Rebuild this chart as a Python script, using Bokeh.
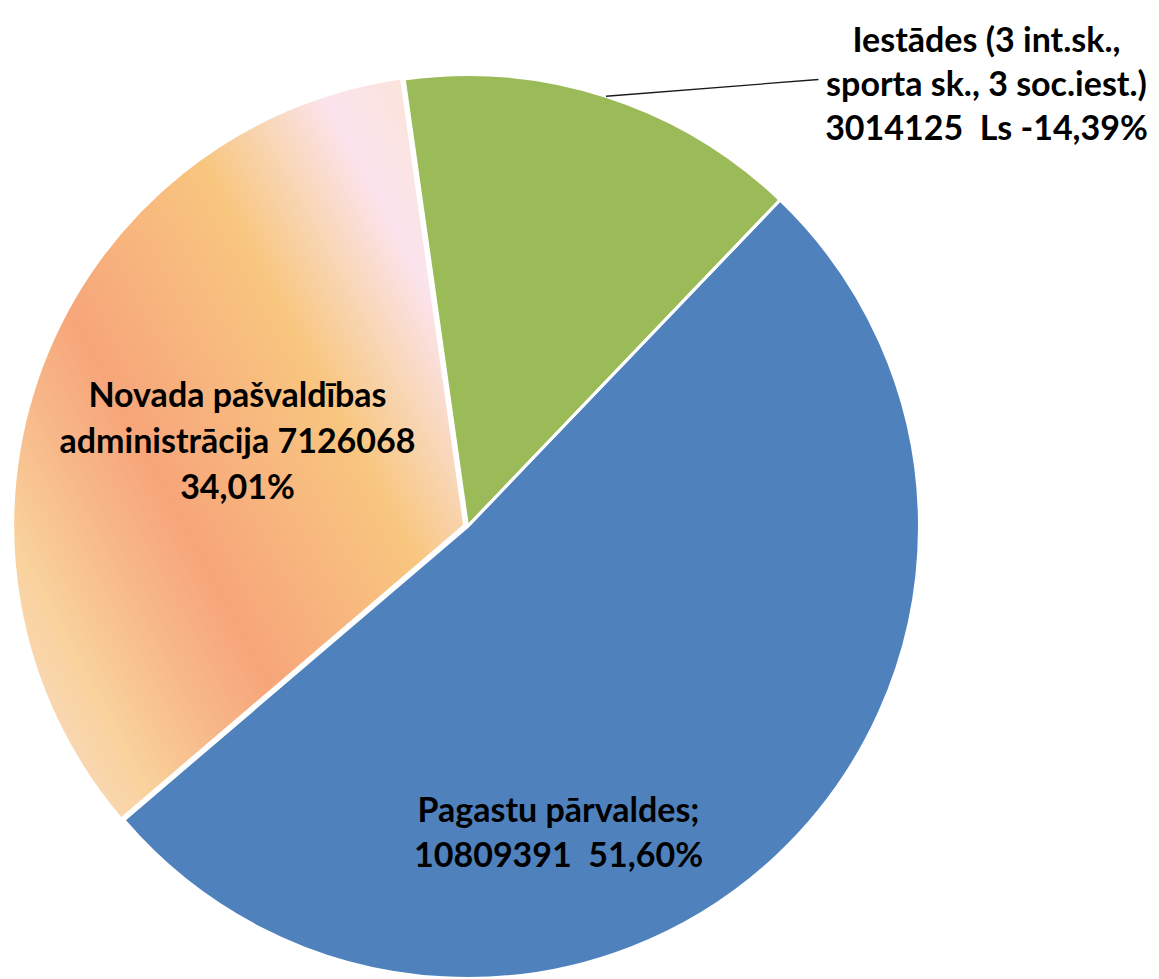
import numpy as np
from bokeh.plotting import figure
from bokeh.models import Range1d
from bokeh.core.properties import value
from bokeh.embed import file_html
from bokeh.resources import INLINE

# ---------------- data ----------------
categories = ["Iestādes (3 int.sk., sporta sk., 3 soc.iest.)",
              "Pagastu pārvaldes",
              "Novada pašvaldības administrācija"]
values = [3014125, 10809391, 7126068]
pct_labels = ["14,39%", "51,60%", "34,01%"]
colors = ["#9BBB59", "#4F81BD", "#F8C08E"]

NB = "\u00a0 "  # double space that survives SVG whitespace collapsing
label_lines = [
    ["Iestādes (3 int.sk.,", "sporta sk., 3 soc.iest.)",
     "%d%sLs -%s" % (values[0], NB, pct_labels[0])],
    ["Pagastu pārvaldes;", "%d%s%s" % (values[1], NB, pct_labels[1])],
    ["Novada pašvaldības", "administrācija %d" % values[2], pct_labels[2]],
]

# ---------------- layout ----------------
W, H = 1159, 979
CX, CY, R = 467.0, 453.0, 452.0
START_DEG = 98.05
EXPLODE = [0.0, 0.0, 3.0]

p = figure(width=W, height=H, x_range=Range1d(0, W), y_range=Range1d(0, H),
           output_backend="svg", toolbar_location=None,
           x_axis_type=None, y_axis_type=None,
           min_border=0, min_border_left=0, min_border_right=0,
           min_border_top=0, min_border_bottom=0)
p.grid.visible = False
p.outline_line_color = None
p.background_fill_color = "white"
p.border_fill_color = "white"

total = float(sum(values))
fr = np.array(values, dtype=float) / total
cum = np.concatenate([[0.0], np.cumsum(fr)])
start_rad = np.deg2rad(START_DEG) - cum[:-1] * 2 * np.pi
end_rad = np.deg2rad(START_DEG) - cum[1:] * 2 * np.pi
mid_rad = (start_rad + end_rad) / 2
xs = [CX + e * np.cos(m) for e, m in zip(EXPLODE, mid_rad)]
ys = [CY + e * np.sin(m) for e, m in zip(EXPLODE, mid_rad)]

# base solid slices
p.wedge(x=xs, y=ys, radius=R, start_angle=list(start_rad), end_angle=list(end_rad),
        direction="clock", fill_color=colors, line_color=None)

# gradient overlay for the third slice (Excel-like soft gradient)
oi = 2
ocx, ocy = xs[oi], ys[oi]
# slice spans counterclockwise from its end angle to its start angle
a_from = np.rad2deg(end_rad[oi]) % 360
a_to = np.rad2deg(start_rad[oi]) % 360
span = (a_to - a_from) % 360
x0 = int(np.floor(ocx - R - 2)); x1 = int(np.ceil(ocx + 3))
y0 = int(np.floor(ocy - R - 2)); y1 = int(np.ceil(ocy + R + 2))
gw, gh = x1 - x0, y1 - y0
gx, gy = np.meshgrid(x0 + 0.5 + np.arange(gw), y0 + 0.5 + np.arange(gh))
dx, dy = gx - ocx, gy - ocy
rr = np.hypot(dx, dy)
ang = np.rad2deg(np.arctan2(dy, dx)) % 360
inside = ((ang - a_from) % 360) <= span
alpha = np.clip(R - rr - 0.3, 0, 1) * inside
tc = 0.88 * (gx - CX) + 0.47 * (gy - CY)
stops_t = [-494, -404, -324, -249, -164, -64, 6, 76, 156]
stops_c = ["#F9DCC4", "#F9D29C", "#F8B98A", "#F7A67A", "#F8B57E",
           "#F8C67E", "#F9D6B4", "#FCE4EE", "#FBE5DA"]
rgb = np.array([[int(c[i:i + 2], 16) for i in (1, 3, 5)] for c in stops_c], dtype=float)
img = np.empty((gh, gw), dtype=np.uint32)
view = img.view(dtype=np.uint8).reshape((gh, gw, 4))
for ch in range(3):
    view[:, :, ch] = np.interp(tc, stops_t, rgb[:, ch]).astype(np.uint8)
view[:, :, 3] = (alpha * 255).astype(np.uint8)
p.image_rgba(image=[img], x=x0, y=y0, dw=gw, dh=gh)

# white borders
p.wedge(x=xs, y=ys, radius=R, start_angle=list(start_rad), end_angle=list(end_rad),
        direction="clock", fill_color=None, line_color="white", line_width=3)

# leader line for the outside label
lx0 = CX + R * np.cos(mid_rad[0])
ly0 = CY + R * np.sin(mid_rad[0])
p.line(x=[lx0, 818], y=[ly0, 900], line_color="#1a1a1a", line_width=1.3)

# labels (x centre, first baseline y, line spacing)
label_pos = [(986, 941, 44), (558, 171, 45), (237, 586, 46)]
tx, ty, tt = [], [], []
for lines, (lxp, lyp, sp) in zip(label_lines, label_pos):
    for k, s in enumerate(lines):
        tx.append(lxp); ty.append(lyp - k * sp); tt.append(s)
p.text(x=tx, y=ty, text=tt, text_align="center", text_baseline="alphabetic",
       text_font=value("Lato"), text_font_style="bold", text_font_size="34px",
       text_color="black")

open("out.html", "w").write(file_html(p, INLINE))
